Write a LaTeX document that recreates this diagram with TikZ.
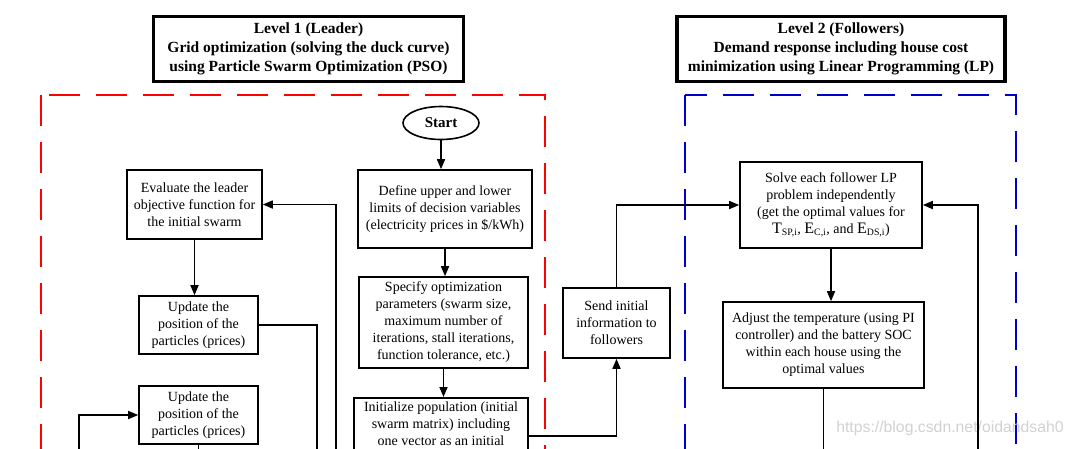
\documentclass[tikz,border=0pt]{standalone}
\usepackage{fontspec}
\setmainfont{Liberation Serif}
\newfontfamily\markfont{Liberation Sans}
\usetikzlibrary{shapes.geometric, arrows.meta}
\definecolor{leadred}{HTML}{FF0000}
\definecolor{followblue}{HTML}{0000CC}
\tikzstyle{process} = [rectangle, draw=black, line width=1.6pt, text centered, align=center, inner sep=0pt, font=\fontsize{14}{17}\selectfont]
\tikzstyle{title} = [rectangle, draw=black, line width=3.5pt, align=center, inner sep=0pt, font=\bfseries\fontsize{15.5}{19}\selectfont]
\tikzstyle{oval} = [ellipse, draw=black, line width=1.6pt, inner sep=0pt, minimum width=76pt, minimum height=33pt, font=\bfseries\fontsize{15}{17}\selectfont]
\tikzstyle{arrow} = [line width=1.6pt, -{Triangle[length=10pt,width=8pt]}]
\tikzstyle{link} = [line width=1.6pt]
\tikzstyle{levelbox} = [line width=2pt, dash pattern=on 31pt off 16pt]

\begin{document}
\begin{tikzpicture}[x=1pt, y=-1pt]
    \useasboundingbox (0,0) rectangle (1074,448);
    \clip (0,0) rectangle (1074,448);
    % level frames
    \draw [levelbox, draw=leadred] (41,95) rectangle (545,480);
    \draw [levelbox, draw=followblue] (685,95) rectangle (1016,480);
    \node (mark) [font=\markfont\fontsize{15.8}{18}\selectfont, text=black!18] at (950,428) {https://blog.csdn.net/oidandsah0};
    % titles
    \node (lvl1) [title, minimum width=310pt, minimum height=65pt] at (308.5,49) {Level 1 (Leader)\\Grid optimization (solving the duck curve)\\using Particle Swarm Optimization (PSO)};
    \node (lvl2) [title, minimum width=328pt, minimum height=65pt] at (841,49) {Level 2 (Followers)\\Demand response including house cost\\minimization using Linear Programming (LP)};
    % leader (PSO)
    \node (start) [oval] at (441,123) {Start};
    \node (limits) [process, minimum width=174pt, minimum height=78pt] at (445,209) {Define upper and lower\\limits of decision variables\\(electricity prices in \$/kWh)};
    \node (params) [process, minimum width=169pt, minimum height=91pt] at (443.5,322.5) {Specify optimization\\parameters (swarm size,\\maximum number of\\iterations, stall iterations,\\function tolerance, etc.)};
    \node (init) [process, anchor=north, minimum width=174pt, inner ysep=4pt] at (441,397) {Initialize population (initial\\swarm matrix) including\\one vector as an initial\rule[-60pt]{0pt}{0pt}};
    \node (eval) [process, minimum width=135pt, minimum height=69pt] at (194.5,204.5) {Evaluate the leader\\objective function for\\the initial swarm};
    \node (upd1) [process, minimum width=119pt, minimum height=58pt] at (198.5,325) {Update the\\position of the\\particles (prices)};
    \node (upd2) [process, minimum width=119pt, minimum height=58pt] at (198.5,415) {Update the\\position of the\\particles (prices)};
    \node (send) [process, minimum width=107pt, minimum height=70pt] at (616.5,323) {Send initial\\information to\\followers};
    % followers (LP)
    \node (solve) [process, minimum width=182pt, minimum height=86pt] at (831,205) {Solve each follower LP\\problem independently\\(get the optimal values for\\{\fontsize{16}{17}\selectfont T}\textsubscript{SP,i}, {\fontsize{16}{17}\selectfont E}\textsubscript{C,i}, and {\fontsize{16}{17}\selectfont E}\textsubscript{DS,i})};
    \node (adjust) [process, minimum width=201pt, minimum height=86pt] at (823.5,345) {Adjust the temperature (using PI\\controller) and the battery SOC\\within each house using the\\optimal values};
    % loose ends below the edge
    \coordinate (evalin) at (336,470);
    \coordinate (upd1out) at (317,470);
    \coordinate (upd2in) at (79,470);
    \coordinate (upd2out) at (199,470);
    \coordinate (adjout) at (826,470);
    \coordinate (solvein) at (978,470);
    % connectors
    \draw[arrow] (start.south) -- (start.south |- limits.north);
    \draw[arrow] (limits.south) -- (limits.south |- params.north);
    \draw[arrow] (params.south) -- (params.south |- init.north);
    \draw[arrow] ([yshift=-39pt]init.north east) -| (send);
    \draw[arrow] (send) |- (solve);
    \draw[arrow] (solve.south) -- (solve.south |- adjust.north);
    \draw[link] (adjust.south) -- (adjust.south |- adjout);
    \draw[arrow] (solvein) |- (solve);
    \draw[arrow] (evalin) |- (eval);
    \draw[arrow] (eval.south) -- (eval.south |- upd1.north);
    \draw[link] (upd1) -| (upd1out);
    \draw[arrow] (upd2in) |- (upd2);
    \draw[link] (upd2.south) -- (upd2.south |- upd2out);
\end{tikzpicture}
\end{document}
